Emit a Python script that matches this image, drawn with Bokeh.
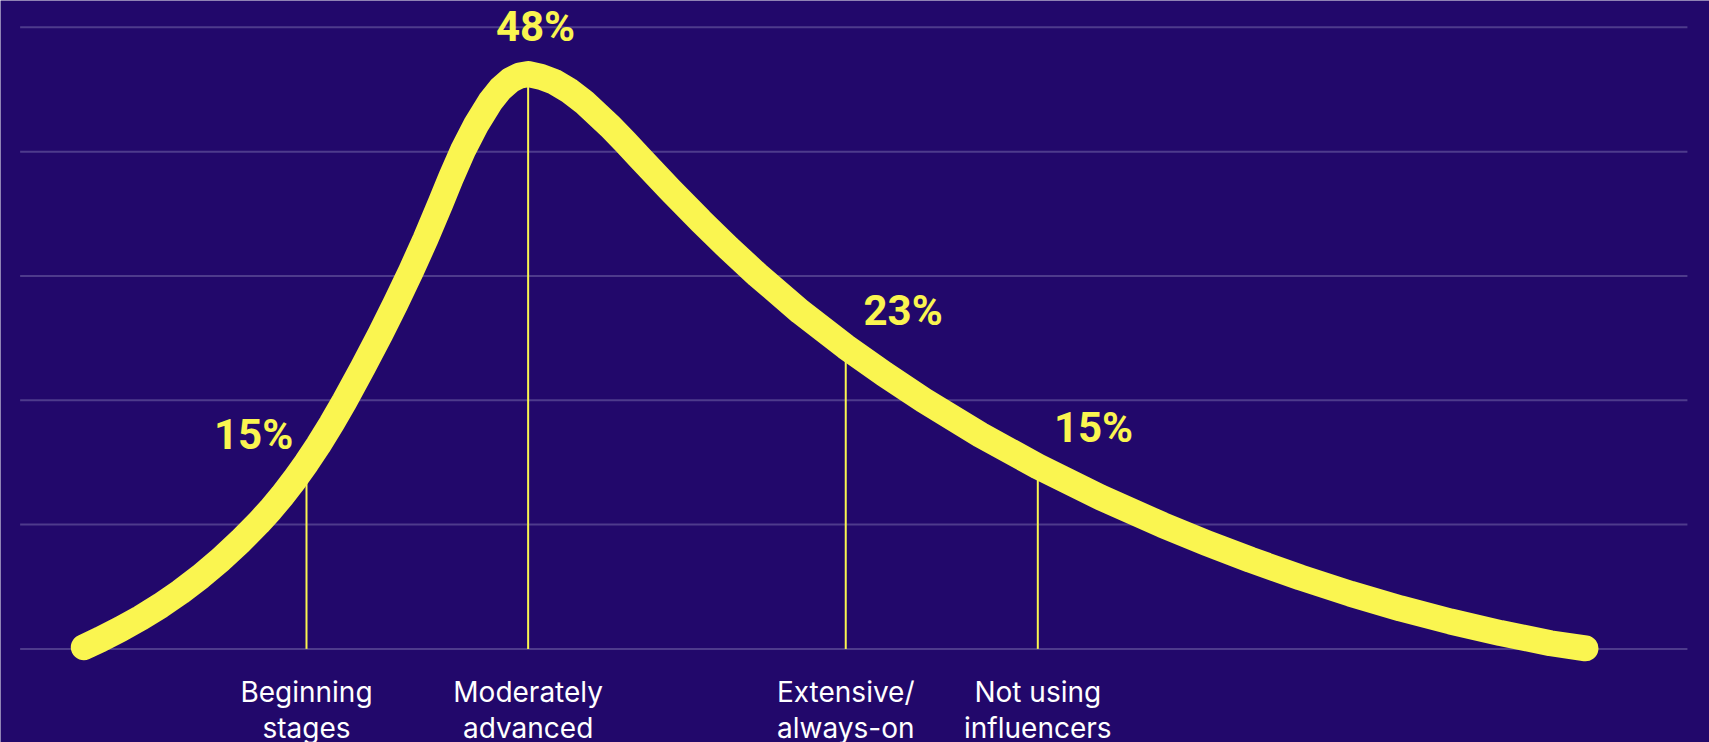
from bokeh.plotting import figure
from bokeh.models import ColumnDataSource, Range1d
from bokeh.core.properties import value
from bokeh.embed import file_html
from bokeh.resources import INLINE

# ---- data ----
# curve: x on a 0-100 "maturity" scale, y in percent
curve_x = [0.000, 1.112, 2.444, 3.776, 5.108, 6.439, 7.771, 9.103, 10.435, 11.633,
           12.433, 13.232, 14.031, 14.830, 15.629, 16.495, 17.360, 18.559, 19.758,
           20.757, 21.809, 22.754, 23.753, 24.486, 25.251, 26.150, 27.083, 27.749,
           28.415, 29.014, 29.593,
           30.412, 31.298, 32.277, 33.296, 35.074, 36.073, 37.071, 39.069, 41.067,
           42.931, 44.863, 47.726, 50.742, 53.319, 55.936, 59.712, 63.528, 67.703,
           71.832, 74.762, 77.692, 81.022, 84.351, 87.681, 91.010, 94.340, 97.669,
           100.0]
curve_y = [0.137, 0.767, 1.590, 2.486, 3.478, 4.588, 5.817, 7.173, 8.669, 10.133,
           11.195, 12.353, 13.608, 14.960, 16.413, 18.108, 19.928, 22.589, 25.358,
           27.770, 30.438, 32.977, 35.841, 38.009, 40.114, 42.221, 44.040, 45.052,
           45.755, 46.122, 46.239,
           46.034, 45.638, 44.946, 44.009, 42.001, 40.752, 39.467, 36.908, 34.446,
           32.249, 30.090, 27.120, 24.301, 22.097, 20.002, 17.219, 14.683, 12.187,
           9.968, 8.525, 7.171, 5.743, 4.436, 3.254, 2.204, 1.274, 0.454, 0.048]

categories = ["Beginning\nstages", "Moderately\nadvanced", "Extensive/\nalways-on",
              "Not using\ninfluencers"]
percentages = [15, 48, 23, 15]
stage_x = [14.83, 29.59, 50.74, 63.53]
stage_curve_y = [14.96, 46.24, 24.30, 14.68]

# label anchor positions for the percentages
pct_label_x = [11.31, 30.08, 54.56, 67.24]
pct_label_y = [17.22, 50.09, 27.22, 17.80]

grid_values = [0, 10, 20, 30, 40, 50]

# ---- styling ----
BG = "#22086B"
YELLOW = "#FAF550"
GRID = "#4E3B8C"

p = figure(width=1709, height=742, output_backend="svg", toolbar_location=None,
           x_range=Range1d(-5.547, 108.26), y_range=Range1d(-7.53, 52.16),
           min_border=0, min_border_left=0, min_border_right=0,
           min_border_top=0, min_border_bottom=0)
p.axis.visible = False
p.grid.visible = False
p.outline_line_color = None
p.background_fill_color = BG
p.border_fill_color = BG

# gridlines
p.segment(x0=[-4.24] * len(grid_values), x1=[106.79] * len(grid_values),
          y0=grid_values, y1=grid_values, line_color=GRID, line_width=2)

# vertical stage lines
p.segment(x0=stage_x, x1=stage_x, y0=[0] * len(stage_x), y1=stage_curve_y,
          line_color=YELLOW, line_width=2)

# curve
p.line(curve_x, curve_y, line_color=YELLOW, line_width=26,
       line_cap="round", line_join="round")

# percentage labels
pct_src = ColumnDataSource(dict(x=pct_label_x, y=pct_label_y,
                                t=[f"{v}%" for v in percentages]))
p.text(x="x", y="y", text="t", source=pct_src, text_color=YELLOW,
       text_font=value("Roboto"), text_font_style="bold", text_font_size="42px",
       text_align="center", text_baseline="alphabetic")

# category labels (two lines each)
line1 = [c.split("\n")[0] for c in categories]
line2 = [c.split("\n")[1] for c in categories]
cat_src = ColumnDataSource(dict(x=stage_x, l1=line1, l2=line2,
                                y1=[-3.47] * len(stage_x), y2=[-6.37] * len(stage_x)))
p.text(x="x", y="y1", text="l1", source=cat_src, text_color="white",
       text_font=value("Inter"), text_font_size="28px",
       text_align="center", text_baseline="alphabetic")
p.text(x="x", y="y2", text="l2", source=cat_src, text_color="white",
       text_font=value("Inter"), text_font_size="28px",
       text_align="center", text_baseline="alphabetic")

open("out.html", "w").write(file_html(p, INLINE))
